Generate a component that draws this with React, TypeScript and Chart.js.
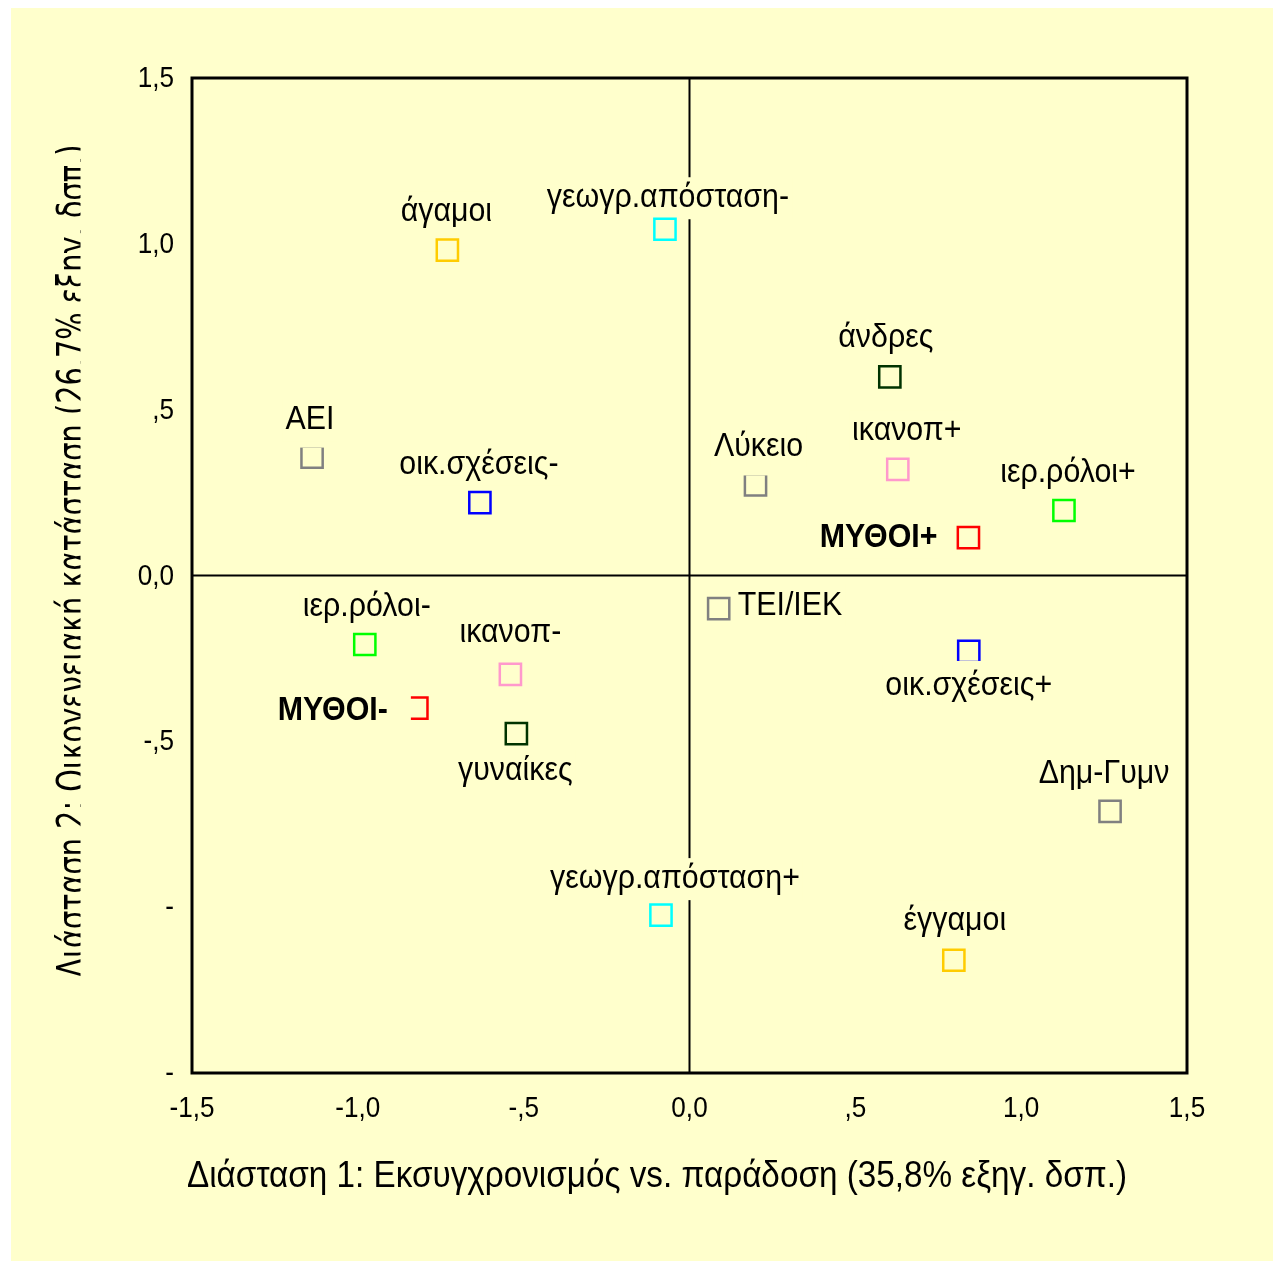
import React, { useEffect, useRef } from 'react';
import { Chart, registerables } from 'chart.js';

Chart.register(...registerables);

// ---------- data ----------
const pointLabels = [
  'άγαμοι', 'έγγαμοι',
  'γεωγρ.απόσταση-', 'γεωγρ.απόσταση+',
  'ΑΕΙ', 'Λύκειο', 'ΤΕΙ/ΙΕΚ', 'Δημ-Γυμν',
  'οικ.σχέσεις-', 'οικ.σχέσεις+',
  'άνδρες', 'γυναίκες',
  'ικανοπ+', 'ικανοπ-',
  'ιερ.ρόλοι+', 'ιερ.ρόλοι-',
  'ΜΥΘΟΙ+', 'ΜΥΘΟΙ-',
];
const dim1Values = [
  -0.730, 0.797,
  -0.074, -0.086,
  -1.138, 0.199, 0.088, 1.268,
  -0.632, 0.842,
  0.604, -0.522,
  0.628, -0.540,
  1.129, -0.979,
  0.841, -0.822,
];
const dim2Values = [
  0.981, -1.160,
  1.044, -1.024,
  0.357, 0.273, -0.100, -0.711,
  0.220, -0.229,
  0.599, -0.477,
  0.320, -0.298,
  0.196, -0.208,
  0.114, -0.400,
];
const pointGroup = [0, 0, 1, 1, 2, 2, 2, 2, 3, 3, 4, 4, 5, 5, 6, 6, 7, 7];
const groupNames = [
  'Οικογενειακή κατάσταση', 'Γεωγρ. απόσταση', 'Εκπαίδευση', 'Οικ. σχέσεις',
  'Φύλο', 'Ικανοποίηση', 'Ιεραρχ. ρόλοι', 'Μύθοι',
];
const xTickLabels: Record<string, string> = {
  '-1.5': '-1,5', '-1': '-1,0', '-0.5': '-,5', '0': '0,0', '0.5': ',5', '1': '1,0', '1.5': '1,5',
};
const yTickLabels: Record<string, string> = {
  '1.5': '1,5', '1': '1,0', '0.5': ',5', '0': '0,0', '-0.5': '-,5', '-1': '-', '-1.5': '-',
};
const xTitle = 'Διάσταση 1: Εκσυγχρονισμός vs. παράδοση (35,8% εξηγ. δσπ.)';
const yTitle = 'Διάσταση 2: Οικογενειακή κατάσταση (26,7% εξηγ. δσπ.)';

// ---------- styles / layout ----------
const groupColors = ['#FFCC00', '#00FFFF', '#808080', '#0000FF', '#003300', '#FF99CC', '#00FF00', '#FF0000'];
const BG = '#FFFFCC';
const SANS = "'Liberation Sans', Arial, sans-serif";
const LABEL_SIZE = 33;
const LABEL_SQUEEZE = 0.92;
const TICK_SIZE = 29;
const TICK_SQUEEZE = 0.9;
// label placement relative to marker (px): [dx, dy, align]
const labelPlacement: [number, number, 'center' | 'left' | 'right'][] = [
  [-1, -38, 'center'], [1, -39, 'center'],
  [3, -31, 'center'], [14, -36, 'center'],
  [-2, -37, 'center'], [3, -38, 'center'], [19, -3, 'left'], [-6, -37, 'center'],
  [-1, -38, 'center'], [0, 34, 'center'],
  [-4, -39, 'center'], [-1, 37, 'center'],
  [9, -38, 'center'], [0, -41, 'center'],
  [4, -38, 'center'], [2, -38, 'center'],
  [-31, 0, 'right'], [-29, 3, 'right'],
];
const boldLabel = [false, false, false, false, false, false, false, false, false, false, false, false, false, false, false, false, true, true];
const maskSide: (null | 'top' | 'bottom' | 'left')[] = [
  null, null, null, null, 'top', 'top', null, null, null, 'bottom', null, null, null, null, null, null, null, 'left',
];

function squeezedText(ctx: any, txt: string, x: number, y: number, sx: number, align: string) {
  ctx.save();
  ctx.translate(x, y);
  ctx.scale(sx, 1);
  ctx.textAlign = align;
  ctx.fillText(txt, 0, 0);
  ctx.restore();
}

const decorPlugin = {
  id: 'decor',
  beforeDraw(chart: any) {
    const { ctx, width, height } = chart;
    ctx.save();
    ctx.fillStyle = '#ffffff';
    ctx.fillRect(0, 0, width, height);
    ctx.fillStyle = BG;
    ctx.fillRect(11, 8, width - 11, height - 8);
    ctx.restore();
  },
  beforeDatasetsDraw(chart: any) {
    const { ctx, chartArea: a, scales } = chart;
    const x0 = scales.x.getPixelForValue(0);
    const y0 = scales.y.getPixelForValue(0);
    ctx.save();
    ctx.strokeStyle = '#000';
    ctx.lineWidth = 2;
    ctx.beginPath();
    ctx.moveTo(x0, a.top);
    ctx.lineTo(x0, a.bottom);
    ctx.moveTo(a.left, y0);
    ctx.lineTo(a.right, y0);
    ctx.stroke();
    // labels with background boxes
    pointLabels.forEach((txt, i) => {
      const px = scales.x.getPixelForValue(dim1Values[i]);
      const py = scales.y.getPixelForValue(dim2Values[i]);
      const [dx, dy, align] = labelPlacement[i];
      ctx.font = `${boldLabel[i] ? 'bold ' : ''}${LABEL_SIZE}px ${SANS}`;
      const w = ctx.measureText(txt).width * LABEL_SQUEEZE;
      const tx = px + dx;
      const ty = py + dy;
      let left = tx - w / 2;
      if (align === 'left') left = tx;
      if (align === 'right') left = tx - w;
      ctx.fillStyle = BG;
      ctx.fillRect(left - 3, ty - 21, w + 6, 42);
      ctx.fillStyle = '#000';
      ctx.textBaseline = 'middle';
      squeezedText(ctx, txt, tx, ty, LABEL_SQUEEZE, align);
    });
    ctx.restore();
  },
  afterDatasetsDraw(chart: any) {
    const { ctx, chartArea: a, scales } = chart;
    ctx.save();
    ctx.fillStyle = BG;
    pointLabels.forEach((_, i) => {
      const side = maskSide[i];
      if (!side) return;
      const px = scales.x.getPixelForValue(dim1Values[i]);
      const py = scales.y.getPixelForValue(dim2Values[i]);
      if (side === 'top') ctx.fillRect(px - 14, py - 14, 28, 4.5);
      if (side === 'bottom') ctx.fillRect(px - 14, py + 9.5, 28, 4.5);
      if (side === 'left') ctx.fillRect(px - 14, py - 14, 8, 28);
    });
    ctx.strokeStyle = '#000';
    ctx.lineWidth = 3;
    ctx.strokeRect(a.left, a.top, a.right - a.left, a.bottom - a.top);
    ctx.restore();
  },
  afterDraw(chart: any) {
    const { ctx, chartArea: a, scales } = chart;
    // tick labels
    ctx.save();
    ctx.fillStyle = '#000';
    ctx.font = `${TICK_SIZE}px ${SANS}`;
    ctx.textBaseline = 'middle';
    scales.x.ticks.forEach((t: any) => {
      const lbl = xTickLabels[String(t.value)];
      if (!lbl) return;
      squeezedText(ctx, lbl, scales.x.getPixelForValue(t.value), a.bottom + 36, TICK_SQUEEZE, 'center');
    });
    scales.y.ticks.forEach((t: any) => {
      const lbl = yTickLabels[String(t.value)];
      if (!lbl) return;
      squeezedText(ctx, lbl, 174, scales.y.getPixelForValue(t.value) + 1, TICK_SQUEEZE, 'right');
    });
    ctx.restore();
    // x title
    ctx.save();
    ctx.font = `36px ${SANS}`;
    let w = ctx.measureText(xTitle).width;
    ctx.translate(657, 1177);
    ctx.scale(940 / w, 1);
    ctx.fillStyle = '#000';
    ctx.textAlign = 'center';
    ctx.textBaseline = 'middle';
    ctx.fillText(xTitle, 0, 0);
    ctx.restore();
    // y title (clipped)
    ctx.save();
    ctx.beginPath();
    ctx.rect(0, 0, 80.5, chart.height);
    ctx.clip();
    ctx.font = "39px 'DejaVu Sans', sans-serif";
    w = ctx.measureText(yTitle).width;
    ctx.translate(85, 561);
    ctx.rotate(-Math.PI / 2);
    ctx.scale(833 / w, 1);
    ctx.fillStyle = '#000';
    ctx.textAlign = 'center';
    ctx.textBaseline = 'alphabetic';
    ctx.fillText(yTitle, 0, 0);
    ctx.restore();
  },
};

export default function App() {
  const ref = useRef<HTMLCanvasElement | null>(null);
  useEffect(() => {
    if (!ref.current) return;
    const datasets = groupNames.map((name, g) => {
      const idx = pointGroup.map((pg, i) => (pg === g ? i : -1)).filter((i) => i >= 0);
      return {
        label: name,
        data: idx.map((i) => ({ x: dim1Values[i], y: dim2Values[i] })),
        pointStyle: 'rect' as const,
        pointRadius: 15,
        pointHoverRadius: 15,
        pointBorderWidth: 2.5,
        borderColor: groupColors[g],
        backgroundColor: 'rgba(0,0,0,0)',
        showLine: false,
      };
    });
    const chart = new Chart(ref.current, {
      type: 'scatter',
      data: { datasets },
      options: {
        animation: false,
        responsive: false,
        devicePixelRatio: 1,
        layout: { padding: { left: 0, top: 78, right: 86, bottom: 0 } },
        plugins: { legend: { display: false }, tooltip: { enabled: false }, title: { display: false } },
        scales: {
          x: {
            type: 'linear',
            min: -1.5,
            max: 1.5,
            grid: { display: false, drawTicks: false },
            border: { display: false },
            ticks: { stepSize: 0.5, display: false },
            afterFit: (s: any) => { s.height = 188; },
          },
          y: {
            type: 'linear',
            min: -1.5,
            max: 1.5,
            grid: { display: false, drawTicks: false },
            border: { display: false },
            ticks: { stepSize: 0.5, display: false },
            afterFit: (s: any) => { s.width = 192; },
          },
        },
      },
      plugins: [decorPlugin],
    });
    return () => chart.destroy();
  }, []);
  return (
    <div style={{ position: 'absolute', left: 0, top: 0, width: 1273, height: 1261 }}>
      <canvas ref={ref} width={1273} height={1261} style={{ width: 1273, height: 1261, display: 'block' }} />
    </div>
  );
}
